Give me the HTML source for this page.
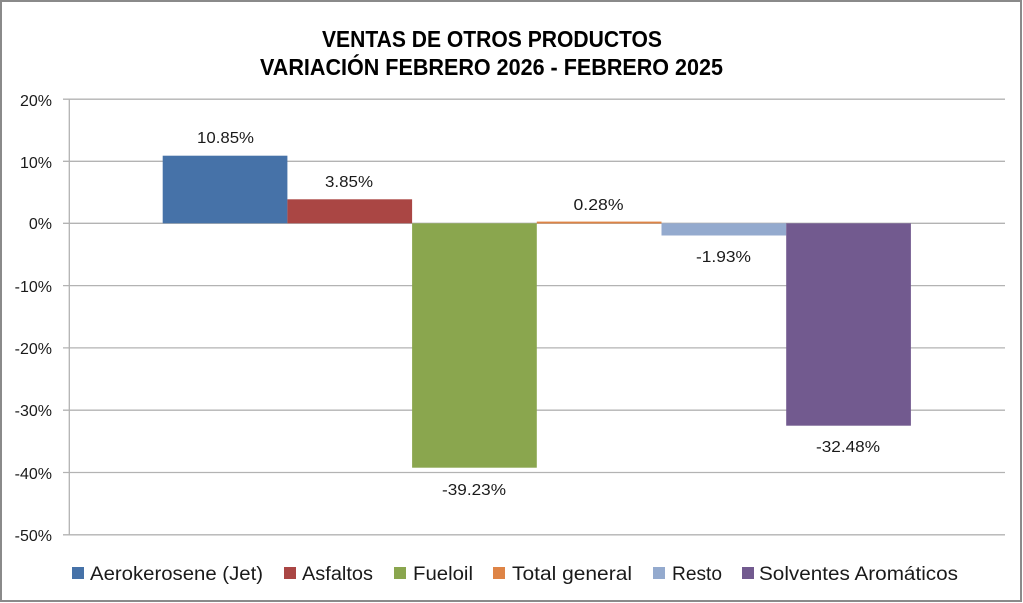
<!DOCTYPE html>
<html>
<head>
<meta charset="utf-8">
<style>
html,body{margin:0;padding:0;background:#fff;}
svg{display:block;}
text{font-family:"Liberation Sans", sans-serif;fill:#1a1a1a;}
</style>
</head>
<body>
<svg width="1023" height="603" viewBox="0 0 1023 603" xmlns="http://www.w3.org/2000/svg">
  <rect x="0" y="0" width="1023" height="603" fill="#fff"/>
  <rect x="1" y="1" width="1020" height="600" fill="none" stroke="#8a8a8a" stroke-width="2"/>

  <!-- Title -->
  <text x="492" y="47" text-anchor="middle" font-size="23" font-weight="bold" textLength="340" lengthAdjust="spacingAndGlyphs" style="fill:#000">VENTAS DE OTROS PRODUCTOS</text>
  <text x="491.5" y="75" text-anchor="middle" font-size="23" font-weight="bold" textLength="463" lengthAdjust="spacingAndGlyphs" style="fill:#000">VARIACIÓN FEBRERO 2026 - FEBRERO 2025</text>

  <!-- Gridlines -->
  <g stroke="#b3b3b3" stroke-width="1.3">
    <line x1="63" y1="99.2" x2="1005" y2="99.2"/>
    <line x1="63" y1="161.3" x2="1005" y2="161.3"/>
    <line x1="63" y1="223.3" x2="1005" y2="223.3"/>
    <line x1="63" y1="285.6" x2="1005" y2="285.6"/>
    <line x1="63" y1="347.9" x2="1005" y2="347.9"/>
    <line x1="63" y1="410.2" x2="1005" y2="410.2"/>
    <line x1="63" y1="472.5" x2="1005" y2="472.5"/>
    <line x1="63" y1="534.8" x2="1005" y2="534.8"/>
    <line x1="69.3" y1="99.2" x2="69.3" y2="534.8"/>
  </g>

  <!-- Y axis labels -->
  <g font-size="16" text-anchor="end">
    <text x="52" y="106">20%</text>
    <text x="52" y="168">10%</text>
    <text x="52" y="229">0%</text>
    <text x="52" y="292">-10%</text>
    <text x="52" y="354">-20%</text>
    <text x="52" y="416">-30%</text>
    <text x="52" y="479">-40%</text>
    <text x="52" y="541">-50%</text>
  </g>

  <!-- Bars -->
  <rect x="162.7" y="155.7" width="124.7" height="67.6" fill="#4672a8"/>
  <rect x="287.4" y="199.3" width="124.7" height="24" fill="#aa4644"/>
  <rect x="412.1" y="223.3" width="124.7" height="244.4" fill="#8aa64e"/>
  <rect x="536.8" y="221.6" width="124.7" height="1.9" fill="#de8446"/>
  <rect x="661.5" y="223.3" width="124.7" height="12.2" fill="#94aace"/>
  <rect x="786.2" y="223.3" width="124.7" height="202.4" fill="#725a8f"/>

  <!-- Data labels -->
  <g font-size="16" text-anchor="middle">
    <text x="225.5" y="143" textLength="57" lengthAdjust="spacingAndGlyphs">10.85%</text>
    <text x="349" y="187" textLength="48" lengthAdjust="spacingAndGlyphs">3.85%</text>
    <text x="474" y="495" textLength="64" lengthAdjust="spacingAndGlyphs">-39.23%</text>
    <text x="598.5" y="210" textLength="50" lengthAdjust="spacingAndGlyphs">0.28%</text>
    <text x="723.5" y="262" textLength="55" lengthAdjust="spacingAndGlyphs">-1.93%</text>
    <text x="848" y="452" textLength="64" lengthAdjust="spacingAndGlyphs">-32.48%</text>
  </g>

  <!-- Legend -->
  <g font-size="19">
    <rect x="72" y="567" width="12" height="12" fill="#4672a8"/>
    <text x="90" y="580" textLength="173" lengthAdjust="spacingAndGlyphs">Aerokerosene (Jet)</text>
    <rect x="284" y="567" width="12" height="12" fill="#aa4644"/>
    <text x="302" y="580" textLength="71" lengthAdjust="spacingAndGlyphs">Asfaltos</text>
    <rect x="394" y="567" width="12" height="12" fill="#8aa64e"/>
    <text x="413" y="580" textLength="60" lengthAdjust="spacingAndGlyphs">Fueloil</text>
    <rect x="493" y="567" width="12" height="12" fill="#de8446"/>
    <text x="512" y="580" textLength="120" lengthAdjust="spacingAndGlyphs">Total general</text>
    <rect x="653" y="567" width="12" height="12" fill="#94aace"/>
    <text x="672" y="580" textLength="50" lengthAdjust="spacingAndGlyphs">Resto</text>
    <rect x="742" y="567" width="12" height="12" fill="#725a8f"/>
    <text x="759" y="580" textLength="199" lengthAdjust="spacingAndGlyphs">Solventes Aromáticos</text>
  </g>
</svg>
</body>
</html>
